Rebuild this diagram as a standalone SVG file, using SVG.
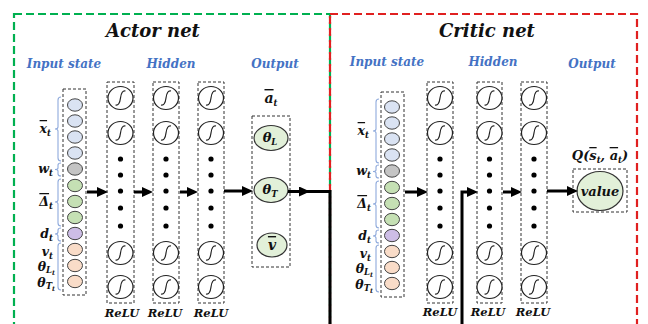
<svg xmlns="http://www.w3.org/2000/svg" width="648" height="324" viewBox="0 0 648 324">
<style>
text{font-family:"DejaVu Serif","Liberation Serif",serif;font-weight:bold;font-style:italic;fill:#111}
.title{font-size:18px;text-anchor:middle}
.head{font-size:12px;fill:#4472C4;text-anchor:middle}
.lbl{font-size:12.5px;text-anchor:end}
.relu{font-size:11.5px;text-anchor:middle}
.sub{font-size:8.5px}
.ssub{font-size:6.5px}
.ov{text-decoration:overline}
.box{fill:none;stroke:#333;stroke-width:1;stroke-dasharray:3 2}
.neu{fill:#fff;stroke:#222;stroke-width:1.2}
.sig{fill:none;stroke:#222;stroke-width:1.2}
.dot{fill:#000}
.in{stroke:#444;stroke-width:1}
.c1{fill:#DAE3F3}.c2{fill:#C4C4C4}.c3{fill:#C5E0B4}.c4{fill:#CDBDE6}.c5{fill:#F9DCC8}
.br{fill:none;stroke:#8FAADC;stroke-width:1.1}
.out{fill:#E2F0D9;stroke:#333;stroke-width:1.2}
.arr{stroke:#000;stroke-width:3;fill:none}
</style>
<defs>
<marker id="ah" markerUnits="userSpaceOnUse" markerWidth="11" markerHeight="10" refX="4" refY="5" orient="auto">
<path d="M0,0 L11,5 L0,10 z" fill="#000"/>
</marker>
<g id="sn"><ellipse class="neu" rx="12.5" ry="11.5"/><path class="sig" d="M-5,7 Q-1,8 0,0 Q1,-8 5,-7"/></g>
</defs>
<rect width="648" height="324" fill="#fff"/>
<!-- frames -->
<rect x="14" y="14" width="316" height="340" fill="none" stroke="#00B050" stroke-width="2.2" stroke-dasharray="8 4"/>
<rect x="330" y="14" width="307" height="340" fill="none" stroke="#E02020" stroke-width="2.2" stroke-dasharray="8 4"/>

<text class="title" x="153" y="37">Actor net</text>
<text class="title" x="487" y="37">Critic net</text>
<text class="head" x="64" y="68">Input state</text>
<text class="head" x="171" y="68">Hidden</text>
<text class="head" x="275" y="68">Output</text>
<text class="head" x="387" y="66">Input state</text>
<text class="head" x="493" y="66">Hidden</text>
<text class="head" x="592" y="68">Output</text>

<!-- Actor input -->
<g id="actor-input">
<rect class="box" x="63" y="89" width="23" height="206"/>
<ellipse class="in c1" cx="75" cy="105" rx="7.5" ry="6.2"/>
<ellipse class="in c1" cx="75" cy="121" rx="7.5" ry="6.2"/>
<ellipse class="in c1" cx="75" cy="137" rx="7.5" ry="6.2"/>
<ellipse class="in c1" cx="75" cy="153" rx="7.5" ry="6.2"/>
<ellipse class="in c2" cx="75" cy="169" rx="7.5" ry="6.2"/>
<ellipse class="in c3" cx="75" cy="185.5" rx="7.5" ry="6.2"/>
<ellipse class="in c3" cx="75" cy="201.5" rx="7.5" ry="6.2"/>
<ellipse class="in c3" cx="75" cy="217.5" rx="7.5" ry="6.2"/>
<ellipse class="in c4" cx="75" cy="233.5" rx="7.5" ry="6.2"/>
<ellipse class="in c5" cx="75" cy="249.5" rx="7.5" ry="6.2"/>
<ellipse class="in c5" cx="75" cy="265.5" rx="7.5" ry="6.2"/>
<ellipse class="in c5" cx="75" cy="281.5" rx="7.5" ry="6.2"/>
<path class="br" d="M61,97 Q58,97 58,100 L58,127 Q58,129 55,129 Q58,129 58,131 L58,158 Q58,161 61,161"/>
<path class="br" d="M61,163 Q58,163 58,165 L58,168 Q58,169.5 55,169.5 Q58,169.5 58,171 L58,174 Q58,176 61,176"/>
<path class="br" d="M61,179 Q58,179 58,182 L58,200 Q58,202 55,202 Q58,202 58,204 L58,223 Q58,226 61,226"/>
<path class="br" d="M61,228 Q58,228 58,230 L58,232 Q58,234 55,234 Q58,234 58,236 L58,239 Q58,241 61,241"/>
<path class="br" d="M61,243 Q58,243 58,246 L58,287 Q58,290 61,290"/>
<text class="lbl" x="51" y="133"><tspan class="ov">x</tspan><tspan class="sub" dy="3">t</tspan></text>
<text class="lbl" x="53" y="173">w<tspan class="sub" dy="3">t</tspan></text>
<text class="lbl" x="53" y="206"><tspan class="ov">Δ</tspan><tspan class="sub" dy="3">t</tspan></text>
<text class="lbl" x="53" y="238">d<tspan class="sub" dy="3">t</tspan></text>
<text class="lbl" x="53" y="256">v<tspan class="sub" dy="3">t</tspan></text>
<text class="lbl" x="55" y="271">θ<tspan class="sub" dy="2">L</tspan><tspan class="ssub" dy="2">t</tspan></text>
<text class="lbl" x="55" y="287">θ<tspan class="sub" dy="2">T</tspan><tspan class="ssub" dy="2">t</tspan></text>
</g>

<!-- Actor hidden layers -->
<g id="actor-h1">
<rect class="box" x="107" y="82" width="27" height="221"/>
<use href="#sn" x="120.5" y="98"/><use href="#sn" x="120.5" y="133"/>
<circle class="dot" cx="120.5" cy="159" r="2.6"/><circle class="dot" cx="120.5" cy="175" r="2.6"/><circle class="dot" cx="120.5" cy="191" r="2.6"/><circle class="dot" cx="120.5" cy="208" r="2.6"/><circle class="dot" cx="120.5" cy="226" r="2.6"/>
<use href="#sn" x="120.5" y="253"/><use href="#sn" x="120.5" y="287"/>
<text class="relu" x="122" y="317">ReLU</text>
</g>
<g id="actor-h2">
<rect class="box" x="153" y="82" width="26" height="221"/>
<use href="#sn" x="166" y="98"/><use href="#sn" x="166" y="133"/>
<circle class="dot" cx="166" cy="159" r="2.6"/><circle class="dot" cx="166" cy="175" r="2.6"/><circle class="dot" cx="166" cy="191" r="2.6"/><circle class="dot" cx="166" cy="208" r="2.6"/><circle class="dot" cx="166" cy="226" r="2.6"/>
<use href="#sn" x="166" y="253"/><use href="#sn" x="166" y="287"/>
<text class="relu" x="165" y="317">ReLU</text>
</g>
<g id="actor-h3">
<rect class="box" x="198" y="82" width="26" height="221"/>
<use href="#sn" x="211" y="98"/><use href="#sn" x="211" y="133"/>
<circle class="dot" cx="211" cy="159" r="2.6"/><circle class="dot" cx="211" cy="175" r="2.6"/><circle class="dot" cx="211" cy="191" r="2.6"/><circle class="dot" cx="211" cy="208" r="2.6"/><circle class="dot" cx="211" cy="226" r="2.6"/>
<use href="#sn" x="211" y="253"/><use href="#sn" x="211" y="287"/>
<text class="relu" x="211" y="317">ReLU</text>
</g>

<!-- Actor output -->
<g id="actor-output">
<text x="271" y="103" style="font-size:14px;text-anchor:middle"><tspan class="ov">a</tspan><tspan class="sub" dy="3">t</tspan></text>
<rect class="box" x="252" y="116" width="38" height="151"/>
<ellipse class="out" cx="271" cy="138" rx="17" ry="12.5"/>
<text x="270" y="142" style="font-size:13px;text-anchor:middle">θ<tspan class="sub" dy="3">L</tspan></text>
<ellipse class="out" cx="271" cy="190" rx="17" ry="12.5"/>
<text x="270" y="194" style="font-size:13px;text-anchor:middle">θ<tspan class="sub" dy="3">T</tspan></text>
<ellipse class="out" cx="272" cy="245" rx="15" ry="12"/>
<text x="272" y="250" style="font-size:14px;text-anchor:middle"><tspan class="ov">v</tspan></text>
</g>

<!-- Critic input -->
<g id="critic-input">
<rect class="box" x="381" y="92" width="23" height="205"/>
<ellipse class="in c1" cx="392" cy="107" rx="7.5" ry="6.2"/>
<ellipse class="in c1" cx="392" cy="123" rx="7.5" ry="6.2"/>
<ellipse class="in c1" cx="392" cy="139" rx="7.5" ry="6.2"/>
<ellipse class="in c1" cx="392" cy="155" rx="7.5" ry="6.2"/>
<ellipse class="in c2" cx="392" cy="171" rx="7.5" ry="6.2"/>
<ellipse class="in c3" cx="392" cy="187.5" rx="7.5" ry="6.2"/>
<ellipse class="in c3" cx="392" cy="203.5" rx="7.5" ry="6.2"/>
<ellipse class="in c3" cx="392" cy="219.5" rx="7.5" ry="6.2"/>
<ellipse class="in c4" cx="392" cy="235.5" rx="7.5" ry="6.2"/>
<ellipse class="in c5" cx="392" cy="251.5" rx="7.5" ry="6.2"/>
<ellipse class="in c5" cx="392" cy="267.5" rx="7.5" ry="6.2"/>
<ellipse class="in c5" cx="392" cy="283.5" rx="7.5" ry="6.2"/>
<path class="br" d="M379,99 Q376,99 376,102 L376,129 Q376,131 373,131 Q376,131 376,133 L376,160 Q376,163 379,163"/>
<path class="br" d="M379,165 Q376,165 376,167 L376,170 Q376,171.5 373,171.5 Q376,171.5 376,173 L376,176 Q376,178 379,178"/>
<path class="br" d="M379,181 Q376,181 376,184 L376,202 Q376,204 373,204 Q376,204 376,206 L376,225 Q376,228 379,228"/>
<path class="br" d="M379,230 Q376,230 376,232 L376,234 Q376,236 373,236 Q376,236 376,238 L376,241 Q376,243 379,243"/>
<path class="br" d="M379,245 Q376,245 376,248 L376,289 Q376,292 379,292"/>
<text class="lbl" x="369" y="135"><tspan class="ov">x</tspan><tspan class="sub" dy="3">t</tspan></text>
<text class="lbl" x="371" y="175">w<tspan class="sub" dy="3">t</tspan></text>
<text class="lbl" x="371" y="208"><tspan class="ov">Δ</tspan><tspan class="sub" dy="3">t</tspan></text>
<text class="lbl" x="371" y="240">d<tspan class="sub" dy="3">t</tspan></text>
<text class="lbl" x="371" y="258">v<tspan class="sub" dy="3">t</tspan></text>
<text class="lbl" x="373" y="273">θ<tspan class="sub" dy="2">L</tspan><tspan class="ssub" dy="2">t</tspan></text>
<text class="lbl" x="373" y="289">θ<tspan class="sub" dy="2">T</tspan><tspan class="ssub" dy="2">t</tspan></text>
</g>

<!-- Critic hidden layers -->
<g id="critic-h1">
<rect class="box" x="427" y="82" width="26" height="221"/>
<use href="#sn" x="440" y="98"/><use href="#sn" x="440" y="133"/>
<circle class="dot" cx="440" cy="159" r="2.6"/><circle class="dot" cx="440" cy="175" r="2.6"/><circle class="dot" cx="440" cy="191" r="2.6"/><circle class="dot" cx="440" cy="208" r="2.6"/><circle class="dot" cx="440" cy="226" r="2.6"/>
<use href="#sn" x="440" y="253"/><use href="#sn" x="440" y="287"/>
<text class="relu" x="440" y="316">ReLU</text>
</g>
<g id="critic-h2">
<rect class="box" x="477" y="82" width="25" height="221"/>
<use href="#sn" x="489.5" y="98"/><use href="#sn" x="489.5" y="133"/>
<circle class="dot" cx="489.5" cy="159" r="2.6"/><circle class="dot" cx="489.5" cy="175" r="2.6"/><circle class="dot" cx="489.5" cy="191" r="2.6"/><circle class="dot" cx="489.5" cy="208" r="2.6"/><circle class="dot" cx="489.5" cy="226" r="2.6"/>
<use href="#sn" x="489.5" y="253"/><use href="#sn" x="489.5" y="287"/>
<text class="relu" x="488" y="316">ReLU</text>
</g>
<g id="critic-h3">
<rect class="box" x="521" y="82" width="26" height="221"/>
<use href="#sn" x="534" y="98"/><use href="#sn" x="534" y="133"/>
<circle class="dot" cx="534" cy="159" r="2.6"/><circle class="dot" cx="534" cy="175" r="2.6"/><circle class="dot" cx="534" cy="191" r="2.6"/><circle class="dot" cx="534" cy="208" r="2.6"/><circle class="dot" cx="534" cy="226" r="2.6"/>
<use href="#sn" x="534" y="253"/><use href="#sn" x="534" y="287"/>
<text class="relu" x="533" y="316">ReLU</text>
</g>

<!-- Critic output -->
<g id="critic-output">
<text x="600" y="160" style="font-size:13px;text-anchor:middle">Q(<tspan class="ov">s</tspan><tspan class="sub" dy="3">t</tspan><tspan dy="-3">, </tspan><tspan class="ov">a</tspan><tspan class="sub" dy="3">t</tspan><tspan dy="-3">)</tspan></text>
<rect class="box" x="573" y="169" width="54" height="43"/>
<ellipse class="out" cx="600" cy="191" rx="23" ry="19.5"/>
<text x="600" y="196" style="font-size:13px;text-anchor:middle">value</text>
</g>

<!-- Connectors -->
<g id="connectors">
<line class="arr" x1="87" y1="192" x2="101" y2="192" marker-end="url(#ah)"/>
<line class="arr" x1="134" y1="192" x2="146" y2="192" marker-end="url(#ah)"/>
<line class="arr" x1="180" y1="192" x2="191" y2="192" marker-end="url(#ah)"/>
<line class="arr" x1="224" y1="191" x2="246" y2="191" marker-end="url(#ah)"/>
<line class="arr" x1="288" y1="191.5" x2="303" y2="191.5" marker-end="url(#ah)"/>
<path class="arr" d="M300,191.5 L330,191.5 L330,330"/>
<line class="arr" x1="405" y1="192" x2="421" y2="192" marker-end="url(#ah)"/>
<path class="arr" d="M462,330 L462,192 L471,192" marker-end="url(#ah)"/>
<line class="arr" x1="503" y1="192" x2="515" y2="192" marker-end="url(#ah)"/>
<line class="arr" x1="547" y1="191" x2="571" y2="191" marker-end="url(#ah)"/>
</g>
</svg>
